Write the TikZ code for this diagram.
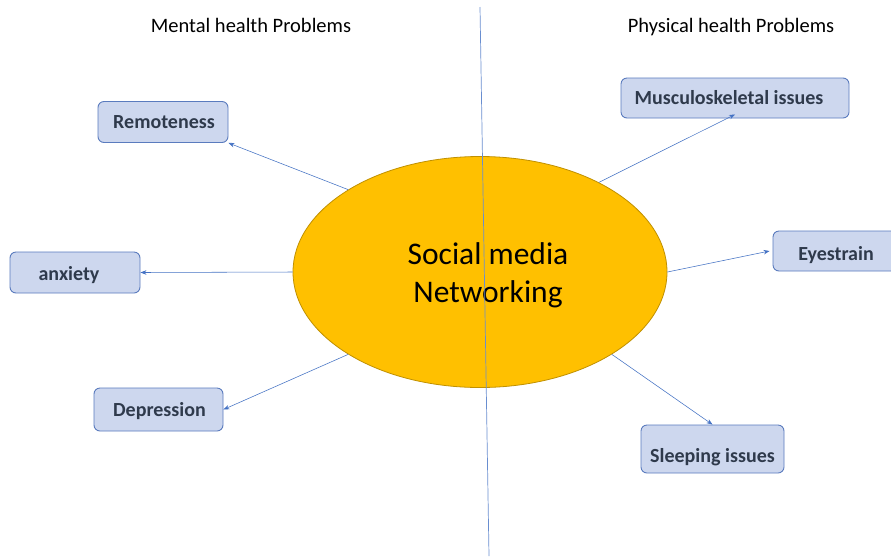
\documentclass[tikz,border=0pt]{standalone}
\usepackage{fontspec}
\setmainfont{Carlito}
\usetikzlibrary{arrows.meta,shapes.geometric}
\definecolor{boxfill}{HTML}{CDD7EE}
\definecolor{boxline}{HTML}{5A7BBE}
\definecolor{boxtext}{HTML}{2F3A4C}
\definecolor{hub}{HTML}{FFC000}
\definecolor{hubline}{HTML}{C09000}
\definecolor{link}{HTML}{4472C4}
% lower a label inside its box without changing the box's reported size
\newcommand{\lowered}[2]{\raisebox{-#1}[\height][\depth]{#2}}
\tikzset{
  issue/.style={draw=boxline, fill=boxfill, rounded corners=6pt, line width=0.9pt,
    text=boxtext, font=\fontsize{20}{22}\selectfont\bfseries, inner sep=0pt, align=center},
  hubnode/.style={ellipse, draw=hubline, fill=hub, line width=0.8pt,
    minimum width=374pt, minimum height=231pt, inner sep=0pt},
  hubtext/.style={align=center, font=\fontsize{31.5}{38}\selectfont, inner sep=0pt},
  link/.style={draw=link, line width=0.55pt, -{Stealth[length=6pt,width=4.5pt]}},
  divider/.style={draw=link!80, line width=0.7pt},
  heading/.style={font=\fontsize{20.5}{22}\selectfont, text=black, anchor=base}
}
\begin{document}
\begin{tikzpicture}[x=1pt,y=-1pt]
  \clip (0,0) rectangle (891,558);
  \fill[white] (0,0) rectangle (891,558);

  % headings
  \node[heading] (mental) at (251,32) {Mental health Problems};
  \node[heading] (physical) at (731,32) {Physical health Problems};

  % central hub and its label
  \node[hubnode] (hub) at (480,272) {};
  \node[hubtext] (hubtext) at (488,275) {Social media\\Networking};

  % dividing line, drawn over the hub
  \coordinate (top) at (480,7);
  \coordinate (bottom) at (489,556);
  \draw[divider] (top) -- (bottom);

  % issue boxes
  \node[issue, minimum width=130pt, minimum height=41pt] (rem) at (163,122) {\hspace*{2pt}Remoteness};
  \node[issue, minimum width=130pt, minimum height=41pt] (anx) at (75,272.5) {\lowered{3pt}{anxiety}\hspace*{12pt}};
  \node[issue, minimum width=129pt, minimum height=43pt] (dep) at (158.5,409.5) {\hspace*{2pt}\lowered{2pt}{Depression}};
  \node[issue, minimum width=228pt, minimum height=40pt] (mus) at (735,98) {Musculoskeletal issues\hspace*{12pt}};
  \node[issue, minimum width=126pt, minimum height=40pt] (eye) at (836,251) {\lowered{4pt}{Eyestrain}};
  \node[issue, minimum width=143pt, minimum height=48pt] (slp) at (712.5,449) {\lowered{8pt}{Sleeping issues}};

  % connectors
  \draw[link] (hub.148) -- (rem.south east);
  \draw[link] (hub.180) -- (anx.east);
  \draw[link] (hub.212) -- (dep.east);
  \draw[link] (hub.37) -- ([yshift=4pt]mus.south);
  \draw[link] (hub.0) -- ([xshift=-3pt]eye.west);
  \draw[link] (hub.-32) -- (slp.north);
\end{tikzpicture}
\end{document}
